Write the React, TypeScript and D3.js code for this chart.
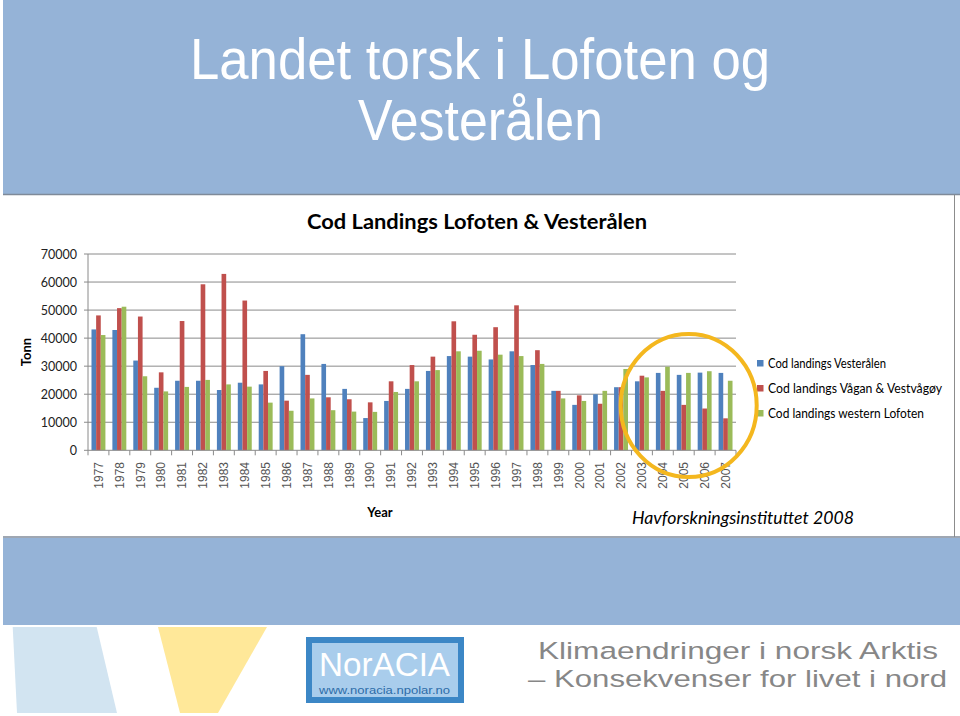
import React from "react";
import * as d3 from "d3";

const years = ["1977","1978","1979","1980","1981","1982","1983","1984","1985","1986","1987","1988","1989","1990","1991","1992","1993","1994","1995","1996","1997","1998","1999","2000","2001","2002","2003","2004","2005","2006","2007"];
const vesteralen = [43100,42900,32000,22300,24800,24800,21500,24100,23500,30000,41400,30800,21900,11500,17600,21900,28300,33600,33400,32400,35300,30400,21200,16200,20000,22500,24600,27600,26900,27700,27600];
const vaganVestvagoy = [48100,50700,47700,27800,46100,59200,62900,53400,28300,17700,26900,18900,18200,17100,24600,30400,33400,46000,41200,43900,51700,35700,21200,19600,16600,22500,26600,21200,16200,14900,11400];
const westernLofoten = [41100,51200,26400,21000,22600,25100,23500,22700,17000,14100,18500,14300,13800,13700,20800,24600,28600,35300,35500,34100,33600,30800,18500,17600,21200,29000,26000,29800,27600,28200,24800];
const seriesNames = ["Cod landings Vesterålen","Cod landings Vågan & Vestvågøy","Cod landings western Lofoten"];
const seriesColors = ["#4F81BD","#C0504D","#9BBB59"];
const yTicks = [0,10000,20000,30000,40000,50000,60000,70000];

const series = [vesteralen, vaganVestvagoy, westernLofoten];

export default function App() {
  const plot = { left: 88, right: 736, top: 254, bottom: 450.3 };
  const x = d3.scaleBand().domain(years).range([plot.left, plot.right]).padding(0);
  const x1 = d3.scaleBand().domain(seriesNames).range([0, x.bandwidth()]).paddingInner(0).paddingOuter(0.75);
  const y = d3.scaleLinear().domain([0, 70000]).range([plot.bottom, plot.top]);
  const calibri = "Lato, 'Open Sans', sans-serif";
  const legendWidths = [118, 174, 156];

  return (
    <svg width={960} height={716} style={{ position: "absolute", left: 0, top: 0 }} xmlns="http://www.w3.org/2000/svg">
      <rect x={0} y={0} width={960} height={716} fill="#ffffff" />
      {/* top band */}
      <rect x={3} y={0} width={957} height={194} fill="#95B3D7" />
      <line x1={3} x2={960} y1={194.5} y2={194.5} stroke="#7F8A99" strokeWidth={1.5} />
      <text x={480} y={79} textAnchor="middle" fill="#ffffff" fontFamily="'Liberation Sans', Arial, sans-serif" fontSize={57} textLength={580} lengthAdjust="spacingAndGlyphs">Landet torsk i Lofoten og</text>
      <text x={480.5} y={140} textAnchor="middle" fill="#ffffff" fontFamily="'Liberation Sans', Arial, sans-serif" fontSize={57} textLength={245} lengthAdjust="spacingAndGlyphs">Vesterålen</text>
      {/* panel borders */}
      <line x1={954.5} x2={954.5} y1={195} y2={537} stroke="#8C8C8C" strokeWidth={1} />
      <line x1={3} x2={960} y1={537} y2={537} stroke="#7F8A99" strokeWidth={1.5} />
      {/* bottom band */}
      <rect x={3} y={538} width={957} height={87} fill="#95B3D7" />

      {/* chart title */}
      <text x={477} y={229} textAnchor="middle" fontFamily={calibri} fontWeight="bold" fontSize={20} fill="#000" textLength={340} lengthAdjust="spacingAndGlyphs">Cod Landings Lofoten &amp; Vesterålen</text>

      {/* gridlines */}
      {yTicks.filter(t => t > 0).map(t => (
        <line key={"g" + t} x1={plot.left} x2={plot.right} y1={y(t)} y2={y(t)} stroke="#8A8A8A" strokeWidth={1} />
      ))}
      {/* y tick labels */}
      {yTicks.map(t => (
        <g key={"yt" + t}>
          <line x1={plot.left - 4} x2={plot.left} y1={y(t)} y2={y(t)} stroke="#8A8A8A" />
          <text x={77} y={y(t) + 4.5} textAnchor="end" fontFamily={calibri} fontSize={12.5} fill="#222">{t}</text>
        </g>
      ))}

      {/* bars */}
      {years.map((yr, i) => (
        <g key={yr} transform={`translate(${x(yr)},0)`}>
          {series.map((s, k) => (
            <rect key={k} x={x1(seriesNames[k])} y={y(s[i])} width={x1.bandwidth()} height={y(0) - y(s[i])} fill={seriesColors[k]} />
          ))}
        </g>
      ))}

      {/* axes */}
      <line x1={plot.left} x2={plot.left} y1={plot.top} y2={plot.bottom} stroke="#8A8A8A" />
      <line x1={plot.left} x2={plot.right} y1={plot.bottom} y2={plot.bottom} stroke="#8A8A8A" />
      {years.map((yr) => (
        <line key={"xt" + yr} x1={x(yr)} x2={x(yr)} y1={plot.bottom} y2={plot.bottom + 5} stroke="#8A8A8A" />
      ))}
      <line x1={plot.right} x2={plot.right} y1={plot.bottom} y2={plot.bottom + 5} stroke="#8A8A8A" />
      {years.map((yr) => {
        const cx = (x(yr) as number) + x.bandwidth() / 2;
        return (
          <text key={"xl" + yr} transform={`translate(${cx + 4.3},462) rotate(-90)`} textAnchor="end" fontFamily="'Liberation Sans', Arial, sans-serif" fontSize={12} fill="#555">{yr}</text>
        );
      })}

      {/* axis titles */}
      <text transform="translate(31,352) rotate(-90)" textAnchor="middle" fontFamily={calibri} fontWeight="bold" fontSize={13} fill="#000">Tonn</text>
      <text x={380} y={517} textAnchor="middle" fontFamily={calibri} fontWeight="bold" fontSize={13} fill="#000">Year</text>

      {/* legend */}
      {seriesNames.map((n, k) => (
        <g key={n} transform={`translate(757,${360 + k * 25})`}>
          <rect x={0} y={0} width={6.5} height={6.5} fill={seriesColors[k]} />
          <text x={11} y={7.5} fontFamily={calibri} fontSize={12.5} fill="#000" textLength={legendWidths[k]} lengthAdjust="spacingAndGlyphs">{n}</text>
        </g>
      ))}

      {/* highlight circle */}
      <ellipse cx={688.7} cy={405.5} rx={68} ry={71.5} fill="none" stroke="#F4B71E" strokeWidth={4} />

      {/* source */}
      <text x={632} y={524} fontFamily={calibri} fontStyle="italic" fontSize={17} fill="#000" textLength={222} lengthAdjust="spacingAndGlyphs">Havforskningsinstituttet 2008</text>

      {/* footer decorations */}
      <polygon points="12.7,627 96.7,627 117,713 17,713" fill="#D2E4F1" />
      <polygon points="158,627 267,627 218,713 180,713" fill="#FFE899" />
      <rect x={306} y={637} width={158} height={66} fill="#3C87C6" />
      <rect x={312} y={643} width={146} height={54} fill="#A9CDEC" />
      <text x={319} y={676} fontFamily="'Liberation Sans', Arial, sans-serif" fontSize={34} fill="#ffffff" textLength={131} lengthAdjust="spacingAndGlyphs">NorACIA</text>
      <text x={319} y={693.5} fontFamily="'Liberation Sans', Arial, sans-serif" fontSize={10.5} fill="#2D6CA8" textLength={131} lengthAdjust="spacingAndGlyphs">www.noracia.npolar.no</text>
      <text x={538} y={659} fontFamily="'Liberation Sans', Arial, sans-serif" fontSize={24.5} fill="#878787" textLength={400} lengthAdjust="spacingAndGlyphs">Klimaendringer i norsk Arktis</text>
      <text x={528} y={687} fontFamily="'Liberation Sans', Arial, sans-serif" fontSize={24.5} fill="#878787" textLength={419} lengthAdjust="spacingAndGlyphs">– Konsekvenser for livet i nord</text>
    </svg>
  );
}
